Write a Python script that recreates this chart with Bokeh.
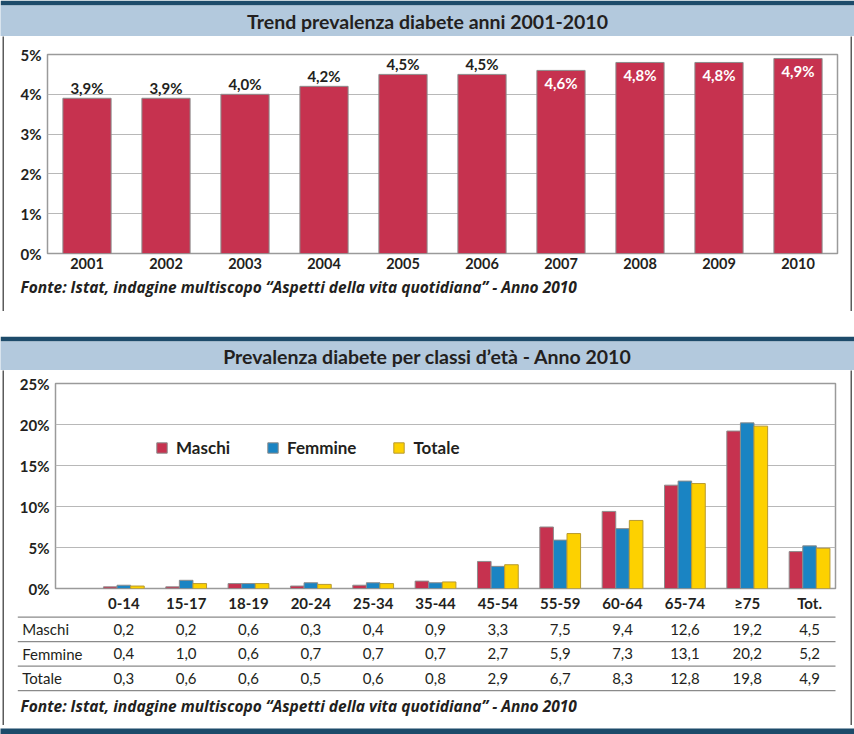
from bokeh.plotting import figure
from bokeh.layouts import column, row
from bokeh.models import (ColumnDataSource, Range1d, FactorRange, PrintfTickFormatter,
                          FixedTicker, Legend, LegendItem, Spacer)
from bokeh.transform import dodge
from bokeh.core.properties import value
from bokeh.embed import file_html
from bokeh.resources import INLINE
from bokeh.core.validation import silence
from bokeh.core.validation.warnings import MISSING_RENDERERS

silence(MISSING_RENDERERS, True)

# ---------------- data ----------------
years = ["2001", "2002", "2003", "2004", "2005", "2006", "2007", "2008", "2009", "2010"]
trend = [3.9, 3.9, 4.0, 4.2, 4.5, 4.5, 4.6, 4.8, 4.8, 4.9]
trend_ticks = [0, 1, 2, 3, 4, 5]

age_classes = ["0-14", "15-17", "18-19", "20-24", "25-34", "35-44", "45-54",
               "55-59", "60-64", "65-74", "≥75", "Tot."]
maschi = [0.2, 0.2, 0.6, 0.3, 0.4, 0.9, 3.3, 7.5, 9.4, 12.6, 19.2, 4.5]
femmine = [0.4, 1.0, 0.6, 0.7, 0.7, 0.7, 2.7, 5.9, 7.3, 13.1, 20.2, 5.2]
totale = [0.3, 0.6, 0.6, 0.5, 0.6, 0.8, 2.9, 6.7, 8.3, 12.8, 19.8, 4.9]
series_names = ["Maschi", "Femmine", "Totale"]
age_ticks = [0, 5, 10, 15, 20, 25]

title1 = "Trend prevalenza diabete anni 2001-2010"
title2 = "Prevalenza diabete per classi d’età - Anno 2010"
source_text = "Fonte: Istat, indagine multiscopo “Aspetti della vita quotidiana” - Anno 2010"

# ---------------- styles ----------------
FONT = "Lato"
SRC_FONT = "Open Sans"
TXT = "#231f20"
DARK = "#1d4b6a"
BAND = "#b3c9dd"
SIDE = "#5b5b5b"
RED = "#c6324f"
BLUE = "#1a84c3"
YEL = "#fdd100"
GRID = "#b8b8b8"
W = 854
IW = W - 8


def fmt(v):
    return f"{v:.1f}".replace(".", ",")


def new_fig(**kw):
    return figure(toolbar_location=None, output_backend="svg", title=None,
                  frame_align=False, **kw)


def plain(w, h, bg, xr=(0, 1), yr=(0, 1)):
    p = new_fig(width=w, height=h, x_range=Range1d(*xr), y_range=Range1d(*yr),
                x_axis_type=None, y_axis_type=None,
                min_border=0, min_border_left=0, min_border_right=0,
                min_border_top=0, min_border_bottom=0)
    p.outline_line_color = None
    p.background_fill_color = bg
    p.border_fill_color = bg
    return p


def header(text, h):
    p = plain(W, h, BAND)
    p.min_border_top = 5
    p.border_fill_color = DARK
    p.text(x=[0.5], y=[0.5], text=[text], text_align="center", text_baseline="middle",
           text_font=value(FONT), text_font_style="bold", text_font_size="19.5px",
           text_color=TXT)
    return p


def side(h):
    return plain(2, h, SIDE)


def bar(h):
    return plain(W, h, DARK)


def style_axes(p, size="15px"):
    for ax in p.axis:
        ax.axis_line_color = None
        ax.major_tick_line_color = None
        ax.minor_tick_line_color = None
        ax.major_tick_out = 0
        ax.major_tick_in = 0
        ax.major_label_text_font = FONT
        ax.major_label_text_font_style = "bold"
        ax.major_label_text_font_size = size
        ax.major_label_text_color = TXT
    p.xgrid.grid_line_color = None
    p.ygrid.grid_line_color = GRID
    p.ygrid.grid_line_width = 1
    p.outline_line_color = "#9a9a9a"
    p.outline_line_width = 1.5


# ---------------- chart 1 ----------------
labels1 = [fmt(v) + "%" for v in trend]
inside = [v > 4.55 for v in trend]
src1 = ColumnDataSource(dict(year=years, val=trend, lab=labels1))
src1_out = ColumnDataSource(dict(year=[y for y, i in zip(years, inside) if not i],
                                 val=[v for v, i in zip(trend, inside) if not i],
                                 lab=[l for l, i in zip(labels1, inside) if not i]))
src1_in = ColumnDataSource(dict(year=[y for y, i in zip(years, inside) if i],
                                val=[v for v, i in zip(trend, inside) if i],
                                lab=[l for l, i in zip(labels1, inside) if i]))

p1 = new_fig(width=IW, height=236, x_range=FactorRange(*years), y_range=Range1d(0, 5),
             min_border_left=43, min_border_right=13, min_border_top=18, min_border_bottom=19)
p1.vbar(x="year", top="val", width=0.61, source=src1, fill_color=RED,
        line_color="#8c8c8c", line_width=1)
p1.text(x="year", y="val", text="lab", source=src1_out, text_align="center",
        text_baseline="bottom", y_offset=-1, text_font=value(FONT), text_font_style="bold",
        text_font_size="15px", text_color=TXT)
p1.text(x="year", y="val", text="lab", source=src1_in, text_align="center",
        text_baseline="top", y_offset=4, text_font=value(FONT), text_font_style="bold",
        text_font_size="15px", text_color="white")
p1.yaxis.ticker = FixedTicker(ticks=trend_ticks, minor_ticks=[])
p1.yaxis.formatter = PrintfTickFormatter(format="%d%%")
style_axes(p1)
p1.xaxis.major_label_text_font_size = "14.5px"
p1.xaxis.major_label_standoff = 4
p1.yaxis.major_label_standoff = 6

s1 = plain(IW, 39, "white", xr=(0, IW), yr=(0, 39))
s1.text(x=[16], y=[24.3], text=[source_text], text_align="left", text_baseline="middle",
        text_font=value(SRC_FONT), text_font_style="bold italic", text_font_size="15.5px",
        text_color=TXT)

# ---------------- chart 2 ----------------
idx = list(range(len(age_classes)))
X0, X1 = -1.096, 11.416
ML, MR = 51, 15
src2 = ColumnDataSource(dict(x=idx, m=maschi, f=femmine, t=totale))

p2 = new_fig(width=IW, height=244, x_range=Range1d(X0, X1), y_range=Range1d(0, 25),
             min_border_left=ML, min_border_right=MR, min_border_top=13, min_border_bottom=23)
bw = 0.218
rm = p2.vbar(x=dodge("x", -bw, range=p2.x_range), top="m", width=bw, source=src2,
             fill_color=RED, line_color="#8c8c8c", line_width=1)
rf = p2.vbar(x=dodge("x", 0, range=p2.x_range), top="f", width=bw, source=src2,
             fill_color=BLUE, line_color="#8c8c8c", line_width=1)
rt = p2.vbar(x=dodge("x", bw, range=p2.x_range), top="t", width=bw, source=src2,
             fill_color=YEL, line_color="#b89a30", line_width=1)
p2.yaxis.ticker = FixedTicker(ticks=age_ticks, minor_ticks=[])
p2.yaxis.formatter = PrintfTickFormatter(format="%d%%")
p2.xaxis.ticker = FixedTicker(ticks=idx, minor_ticks=[])
p2.xaxis.major_label_overrides = {i: lab for i, lab in zip(idx, age_classes)}
style_axes(p2)
p2.xaxis.major_label_standoff = 5
p2.yaxis.major_label_standoff = 6

legend = Legend(items=[LegendItem(label=n, renderers=[r]) for n, r in zip(series_names, [rm, rf, rt])],
                orientation="horizontal", location=(100, 130))
legend.background_fill_alpha = 0
legend.border_line_color = None
legend.padding = 0
legend.margin = 0
legend.spacing = 36
legend.label_standoff = 8
legend.glyph_width = 13
legend.glyph_height = 13
legend.label_text_font = FONT
legend.label_text_font_style = "bold"
legend.label_text_font_size = "17px"
legend.label_text_color = TXT
p2.add_layout(legend)

# ---------------- table ----------------
s = (X1 - X0) / (IW - ML - MR)
TX0 = X0 - ML * s
TX1 = X1 + MR * s
TH = 111
pitch = 24.5
top_gap = 2.7
ytop = -top_gap / pitch
ybot = ytop + TH / pitch
pt = plain(IW, TH, "white", xr=(TX0, TX1), yr=(ybot, ytop))
pt.segment(x0=[TX0 + 13.3 * s] * 4, x1=[X1] * 4, y0=[0, 1, 2, 3], y1=[0, 1, 2, 3],
           line_color="#8a8a8a", line_width=1.2)
rows = [maschi, femmine, totale]
for r, vals in enumerate(rows):
    pt.text(x=idx, y=[r + 0.5] * len(idx), text=[fmt(v) for v in vals],
            text_align="center", text_baseline="middle", text_font=value(FONT),
            text_font_size="15px", text_color=TXT)
pt.text(x=[TX0 + 17.7 * s] * 3, y=[0.5, 1.5, 2.5], text=series_names, text_align="left",
        text_baseline="middle", text_font=value(FONT), text_font_size="15px", text_color=TXT)
pt.text(x=[TX0 + 16 * s], y=[(91 - top_gap) / pitch], text=[source_text], text_align="left",
        text_baseline="middle", text_font=value(SRC_FONT), text_font_style="bold italic",
        text_font_size="15.5px", text_color=TXT)

# ---------------- layout ----------------
def body(h, content):
    return row(Spacer(width=2, height=h), side(h), content, side(h), Spacer(width=2, height=h))


panel1 = column(header(title1, 36), body(275, column(p1, s1)), bar(6))
panel2 = column(header(title2, 34), body(355, column(p2, pt)), bar(9))
layout = column(panel1, Spacer(width=W, height=19), panel2)

open("out.html", "w").write(file_html(layout, INLINE, title="Prevalenza diabete"))
